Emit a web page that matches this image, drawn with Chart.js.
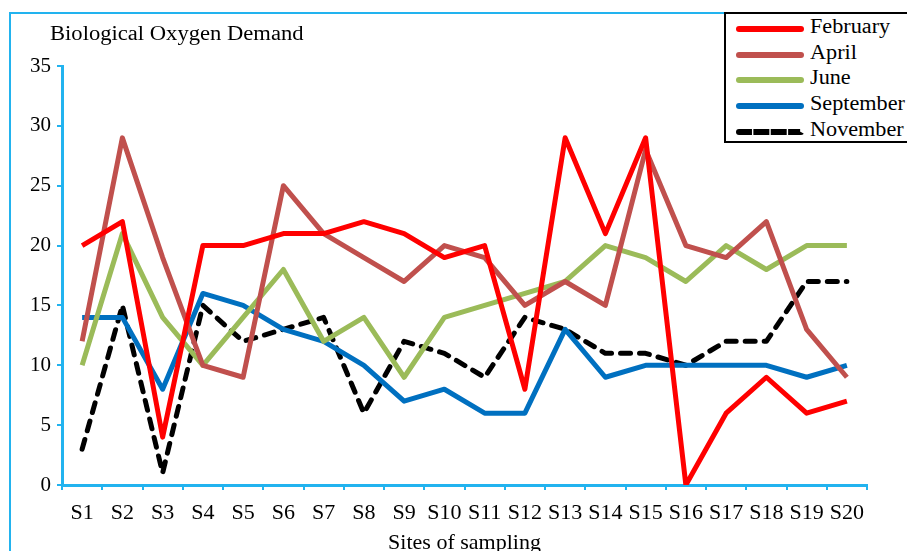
<!DOCTYPE html>
<html>
<head>
<meta charset="utf-8">
<script src="https://cdn.jsdelivr.net/npm/chart.js@4.4.1/dist/chart.umd.min.js"></script>
<style>
  body { margin: 0; background: #fff; }
  #wrap { position: relative; width: 907px; height: 551px; overflow: hidden; background: #fff; }
  #frame { position: absolute; left: 9px; top: 12px; width: 1000px; height: 1000px; border: 2px solid #22b3ef; }
  #chart { position: absolute; left: 0; top: 0; }
  .txt { position: absolute; font-family: "Liberation Serif", "Times New Roman", serif; color: #000; white-space: nowrap; transform-origin: left center; }
  #title { left: 50px; top: 23px; font-size: 20px; line-height: 20px; transform: scaleX(1.13); }
  #legend { position: absolute; left: 724px; top: 12px; width: 300px; height: 127px; border: 2px solid #000; background: #fff; }
  .row { position: absolute; left: 0; height: 26px; }
  .sample { position: absolute; left: 10px; width: 68px; top: 11px; height: 0; border-top-width: 6px; border-top-style: solid; border-radius: 3px; }
  .lab { position: absolute; left: 84px; top: 1px; font-size: 20px; line-height: 20px; transform: scaleX(1.11); }
</style>
</head>
<body>
<div id="wrap">
  <div id="frame"></div>
  <canvas id="chart" width="907" height="551"></canvas>
  <div id="title" class="txt">Biological Oxygen Demand</div>
  <div id="legend"></div>
</div>
<script>
    var sites = ['S1', 'S2', 'S3', 'S4', 'S5', 'S6', 'S7', 'S8', 'S9', 'S10',
        'S11', 'S12', 'S13', 'S14', 'S15', 'S16', 'S17', 'S18', 'S19', 'S20'];

    var february = [20, 22, 4, 20, 20, 21, 21, 22, 21, 19, 20, 8, 29, 21, 29, 0, 6, 9, 6, 7];
    var april = [12, 29, 19, 10, 9, 25, 21, 19, 17, 20, 19, 15, 17, 15, 28, 20, 19, 22, 13, 9];
    var june = [10, 21, 14, 10, 14, 18, 12, 14, 9, 14, 15, 16, 17, 20, 19, 17, 20, 18, 20, 20];
    var september = [14, 14, 8, 16, 15, 13, 12, 10, 7, 8, 6, 6, 13, 9, 10, 10, 10, 10, 9, 10];
    var november = [3, 15, 1, 15, 12, 13, 14, 6, 12, 11, 9, 14, 13, 11, 11, 10, 12, 12, 17, 17];

    var yTicks = [0, 5, 10, 15, 20, 25, 30, 35];

    var axisBlue = '#22b3ef';
    var serif = '"Liberation Serif", "Times New Roman", serif';

    function series(label, data, color, dash) {
        return {
            label: label,
            data: data,
            borderColor: color,
            backgroundColor: color,
            borderWidth: 5,
            borderDash: dash || [],
            borderCapStyle: dash ? 'round' : 'butt',
            borderJoinStyle: 'round',
            pointRadius: 0,
            tension: 0,
            fill: false
        };
    }

    var datasets = [
        series('February', february, '#ff0000'),
        series('April', april, '#c0504d'),
        series('June', june, '#9bbb59'),
        series('September', september, '#0070c0'),
        series('November', november, '#000000', [10, 9])
    ];

    var config = {
        type: 'line',
        data: {
            labels: sites,
            datasets: datasets
        },
        options: {
            responsive: false,
            devicePixelRatio: 1,
            animation: false,
            layout: {
                padding: { left: 9, top: 66, right: 40, bottom: 0 }
            },
            plugins: {
                legend: { display: false },
                title: { display: false },
                tooltip: { enabled: false }
            },
            scales: {
                x: {
                    offset: true,
                    grid: {
                        offset: true,
                        drawOnChartArea: false,
                        drawTicks: true,
                        tickLength: 5,
                        color: axisBlue,
                        lineWidth: 2
                    },
                    border: { color: axisBlue, width: 3 },
                    ticks: {
                        color: '#000',
                        font: { family: serif, size: 22 },
                        padding: 10,
                        maxRotation: 0,
                        autoSkip: false
                    },
                    title: {
                        display: true,
                        text: 'Sites of sampling',
                        color: '#000',
                        font: { family: serif, size: 22 },
                        padding: { top: 0, bottom: -5 }
                    },
                    afterFit: function (scale) {
                        scale.height = 66;
                    }
                },
                y: {
                    min: 0,
                    max: 35,
                    afterBuildTicks: function (scale) {
                        scale.ticks = yTicks.map(function (v) { return { value: v }; });
                    },
                    grid: {
                        drawOnChartArea: false,
                        drawTicks: true,
                        tickLength: 5,
                        color: axisBlue,
                        lineWidth: 2
                    },
                    border: { color: axisBlue, width: 3 },
                    ticks: {
                        color: '#000',
                        font: { family: serif, size: 21 },
                        padding: 6
                    },
                    afterFit: function (scale) {
                        scale.width = 53;
                    }
                }
            }
        }
    };

    new Chart(document.getElementById('chart'), config);

    // legend built from the datasets
    var legend = document.getElementById('legend');
    datasets.forEach(function (ds, i) {
        var row = document.createElement('div');
        row.className = 'row';
        row.style.top = (1 + i * 25.7) + 'px';
        var line = document.createElement('div');
        line.className = 'sample';
        line.style.borderTopColor = ds.borderColor;
        if (ds.borderDash.length) {
            line.style.borderTopStyle = 'dashed';
        }
        var lab = document.createElement('div');
        lab.className = 'lab txt';
        lab.textContent = ds.label;
        row.appendChild(line);
        row.appendChild(lab);
        legend.appendChild(row);
    });
</script>
</body>
</html>
